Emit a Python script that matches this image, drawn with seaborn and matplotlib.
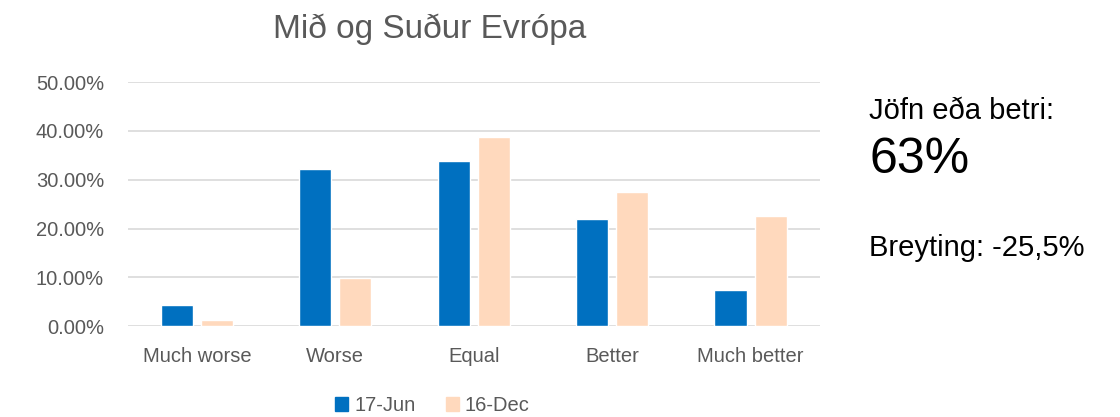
import numpy as np
import pandas as pd
import matplotlib
matplotlib.use('Agg')
import matplotlib.pyplot as plt
import seaborn as sns
from matplotlib.ticker import PercentFormatter

# =====================
# DATA
# =====================
categories = ['Much worse', 'Worse', 'Equal', 'Better', 'Much better']
jun_values = [0.044, 0.322, 0.338, 0.220, 0.073]
dec_values = [0.012, 0.099, 0.387, 0.274, 0.225]
series_names = ['17-Jun', '16-Dec']

df = pd.DataFrame({
    'category': categories * 2,
    'share': jun_values + dec_values,
    'series': [series_names[0]] * 5 + [series_names[1]] * 5,
})

# =====================
# STYLE
# =====================
sns.set_style('white')
plt.rcParams['font.family'] = ['Liberation Sans', 'DejaVu Sans']

grey = '#595959'
colors = ['#0070C0', '#FFD9BD']

fig = plt.figure(figsize=(11.2, 4.17), dpi=100)
ax = fig.add_axes([0.114, 0.218, 0.618, 0.585])

sns.barplot(data=df, x='category', y='share', hue='series', order=categories,
            hue_order=series_names, palette=colors, width=0.58, gap=0.2,
            saturation=1, ax=ax, legend=False)

ax.set_ylim(0, 0.5)
ax.set_xlim(-0.5, 4.5)
ax.set_yticks(np.arange(0, 0.51, 0.1))
ax.yaxis.set_major_formatter(PercentFormatter(1.0, decimals=2))
ax.grid(axis='y', color='#D9D9D9', linewidth=1.2)
ax.set_axisbelow(True)
for s in ax.spines.values():
    s.set_visible(False)
ax.tick_params(axis='both', length=0, colors=grey)
ax.tick_params(axis='y', labelsize=14.5, pad=17)
ax.tick_params(axis='x', labelsize=14.5, pad=15)
ax.set_xlabel('')
ax.set_ylabel('')

# =====================
# TITLE / LEGEND
# =====================
fig.text(0.384, 0.93, 'Mið og Suður Evrópa', fontsize=24, color=grey,
         ha='center', va='center')

handles = [plt.Rectangle((0, 0), 1, 1, color=c) for c in colors]
fig.legend(handles, series_names, loc='center', bbox_to_anchor=(0.386, 0.027),
           ncol=2, frameon=False, fontsize=14.5, handlelength=0.65,
           handleheight=0.65, handletextpad=0.3, columnspacing=1.5,
           labelcolor=grey)

# =====================
# SIDE TEXT
# =====================
fig.text(0.776, 0.735, 'Jöfn eða betri:', fontsize=21, color='black', va='center')
fig.text(0.776, 0.617, '63%', fontsize=36, color='black', va='center')
fig.text(0.776, 0.405, 'Breyting: -25,5%', fontsize=21, color='black', va='center')

plt.savefig('out.png', dpi=100)
